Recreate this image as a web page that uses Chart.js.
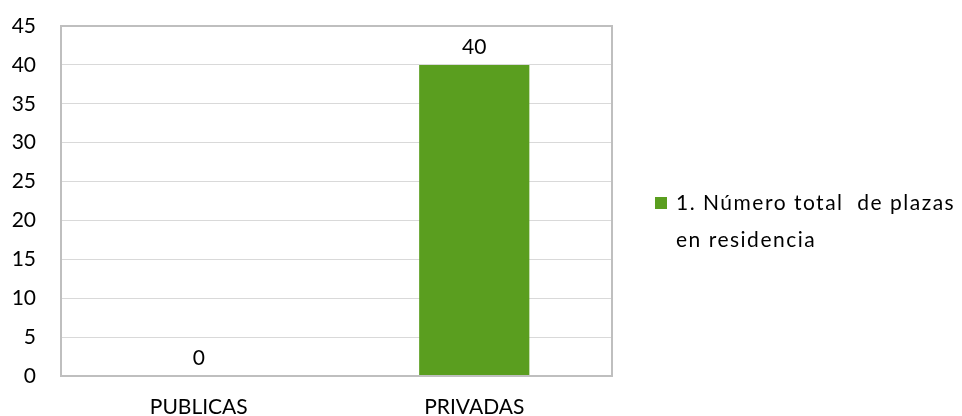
<!DOCTYPE html>
<html>
<head>
<meta charset="utf-8">
<script src="https://cdn.jsdelivr.net/npm/chart.js@4/dist/chart.umd.min.js"></script>
<style>
  html, body { margin: 0; padding: 0; background: #fff; }
  #wrap { width: 962px; height: 416px; }
</style>
</head>
<body>
<div id="wrap"><canvas id="grafico"></canvas></div>
<script>
const categorias = ['PUBLICAS', 'PRIVADAS'];
const plazas = [0, 40];
const serieNombre = ['1. Número total  de plazas', 'en residencia'];
const colorBarra = '#5a9e1f';
const fuente = 'Lato, "Open Sans", sans-serif';

// valores encima de cada barra
const etiquetas = {
    id: 'etiquetas',
    afterDatasetsDraw(chart) {
        const c = chart.ctx;
        c.save();
        c.font = '21px ' + fuente;
        c.fillStyle = '#000';
        c.textAlign = 'center';
        c.textBaseline = 'bottom';
        chart.getDatasetMeta(0).data.forEach((bar, i) => {
            c.fillText(plazas[i], bar.x, bar.y - 7);
        });
        c.restore();
    }
};

// leyenda a la derecha, en dos lineas
const leyenda = {
    id: 'leyenda',
    afterDraw(chart) {
        const c = chart.ctx;
        c.save();
        c.fillStyle = colorBarra;
        c.fillRect(655, 197, 12, 12);
        c.font = '21px ' + fuente;
        c.letterSpacing = '1.5px';
        c.fillStyle = '#000';
        c.textBaseline = 'middle';
        c.fillText(serieNombre[0], 676, 203);
        c.fillText(serieNombre[1], 676, 240);
        c.restore();
    }
};

new Chart(document.getElementById('grafico'), {
    type: 'bar',
    data: {
        labels: categorias,
        datasets: [{
            label: serieNombre.join(' '),
            data: plazas,
            backgroundColor: colorBarra,
            barPercentage: 0.8,
            categoryPercentage: 0.5
        }]
    },
    options: {
        responsive: true,
        maintainAspectRatio: false,
        animation: false,
        layout: { padding: { top: 26, right: 350, left: 0, bottom: 0 } },
        plugins: {
            legend: { display: false },
            tooltip: { enabled: false }
        },
        scales: {
            y: {
                min: 0,
                max: 45,
                ticks: {
                    stepSize: 5,
                    padding: 25,
                    color: '#000',
                    font: { family: fuente, size: 21 }
                },
                grid: { color: '#d9d9d9', lineWidth: 1, drawTicks: false },
                border: { color: '#bfbfbf', width: 2 },
                afterFit(s) { s.width = 61; s.paddingTop = 0; s.paddingBottom = 0; }
            },
            x: {
                ticks: {
                    padding: 19,
                    color: '#000',
                    font: { family: fuente, size: 21 }
                },
                grid: { display: false, drawTicks: false },
                border: { color: '#bfbfbf', width: 2 },
                afterFit(s) { s.height = 40; s.paddingLeft = 0; s.paddingRight = 0; }
            }
        }
    },
    plugins: [etiquetas, leyenda, {
        id: 'marco',
        afterDatasetsDraw(chart) {
            const a = chart.chartArea, c = chart.ctx;
            c.save();
            c.strokeStyle = '#bfbfbf';
            c.lineWidth = 2;
            c.strokeRect(a.left, a.top, a.right - a.left, a.bottom - a.top);
            c.restore();
        }
    }]
});
</script>
</body>
</html>
